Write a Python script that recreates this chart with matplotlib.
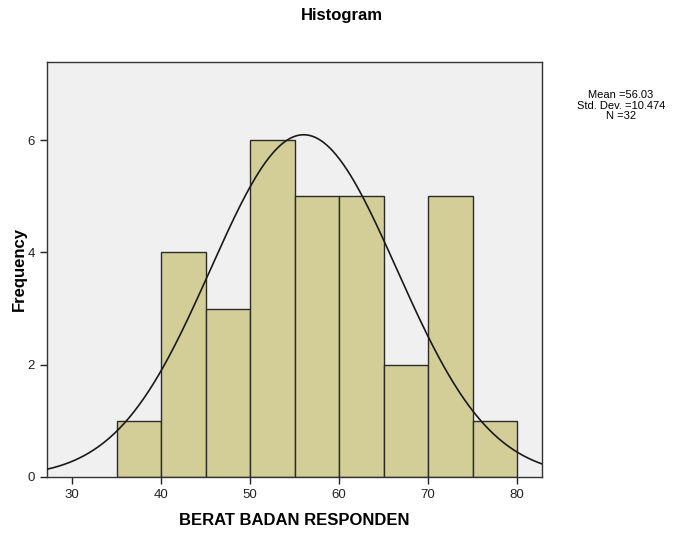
import numpy as np
import matplotlib
matplotlib.use("Agg")
import matplotlib.pyplot as plt

plt.rcParams['font.family'] = ['Liberation Sans', 'DejaVu Sans']

# Histogram of body weight (bin width 5)
bin_edges = [35, 40, 45, 50, 55, 60, 65, 70, 75, 80]
counts = [1, 4, 3, 6, 5, 5, 2, 5, 1]
mean = 56.03
std_dev = 10.474
n = 32
x_ticks = [30, 40, 50, 60, 70, 80]
y_ticks = [0, 2, 4, 6]

fig = plt.figure(figsize=(6.83, 5.4), dpi=100)
ax = fig.add_axes([0.0688, 0.1167, 0.7248, 0.7685])
ax.set_facecolor('#F0F0F0')

lefts = bin_edges[:-1]
widths = np.diff(bin_edges)
ax.bar(lefts, counts, width=widths, align='edge', color='#D3CE97',
       edgecolor='#2b2b2b', linewidth=1.0, zorder=2)

# Normal curve scaled to counts
xmin, xmax = 27.19, 82.81
xs = np.linspace(xmin, xmax, 400)
bw = widths[0]
ys = n * bw / (std_dev * np.sqrt(2 * np.pi)) * np.exp(-0.5 * ((xs - mean) / std_dev) ** 2)
ax.plot(xs, ys, color='#1a1a1a', linewidth=1.2, zorder=3)

ax.set_xlim(xmin, xmax)
ax.set_ylim(0, 7.39)
ax.set_xticks(x_ticks)
ax.set_yticks(y_ticks)
ax.tick_params(axis='both', direction='out', length=5, width=1, labelsize=9.5,
               colors='#222222', labelcolor='#222222')
for sp in ax.spines.values():
    sp.set_color('#333333')
    sp.set_linewidth(1.0)

ax.set_xlabel('BERAT BADAN RESPONDEN', fontsize=12, fontweight='bold', labelpad=9)
ax.set_ylabel('Frequency', fontsize=12, fontweight='bold', labelpad=1)
fig.text(0.5, 0.971, 'Histogram', ha='center', va='center', fontsize=12, fontweight='bold')

fig.text(0.909, 0.804,
         f'Mean ={mean:.2f}\nStd. Dev. ={std_dev:.3f}\nN ={n}',
         ha='center', va='center', fontsize=8, linespacing=1.05)

fig.savefig('out.png', dpi=100)
